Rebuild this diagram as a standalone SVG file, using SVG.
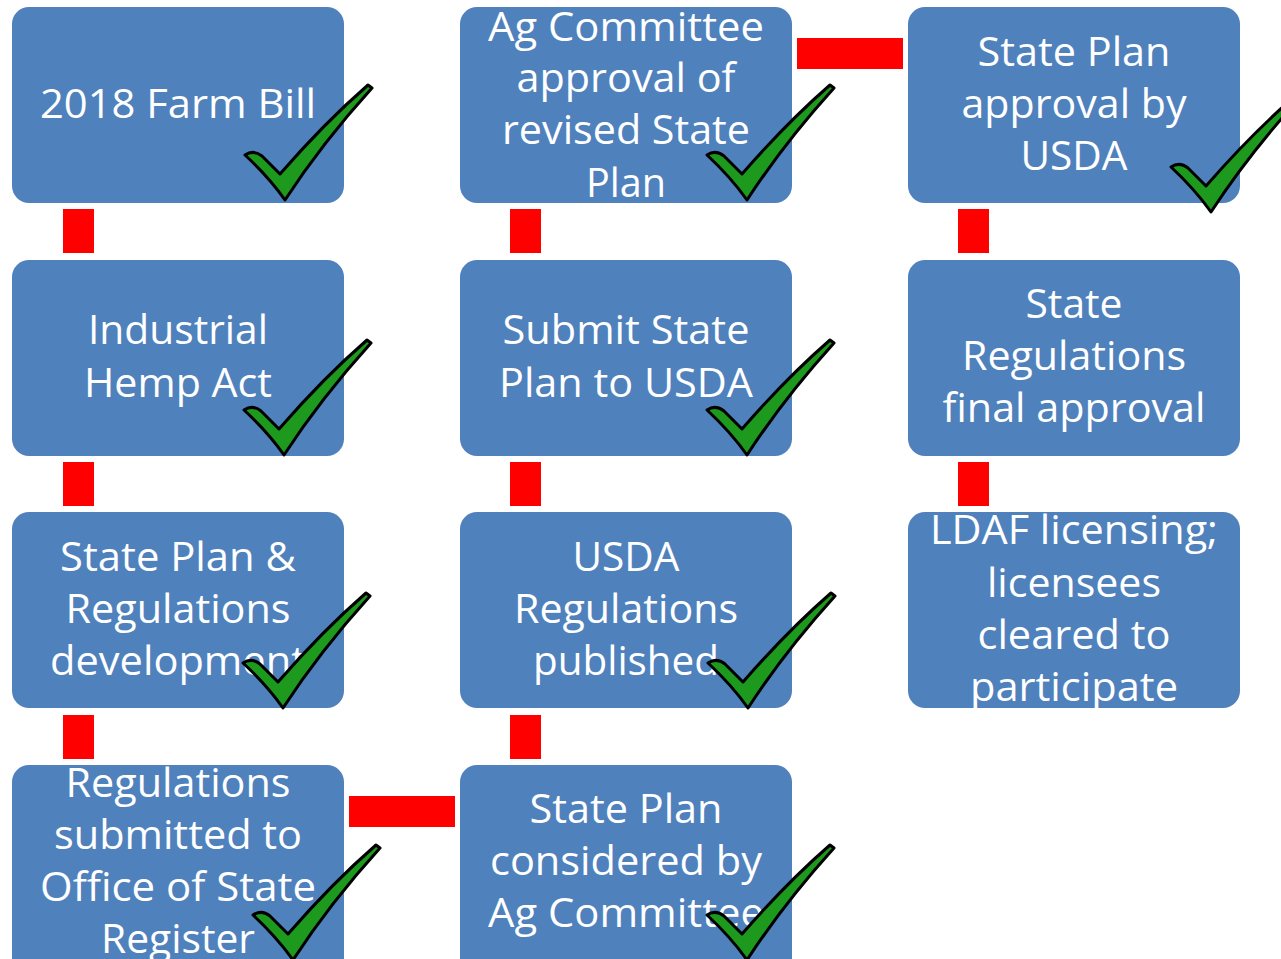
<svg xmlns="http://www.w3.org/2000/svg" width="1281" height="959" viewBox="0 0 1281 959">
<defs>
<style>
.box{fill:#4f81bd;}
.lnk{fill:#ff0000;}
text{font-family:"Open Sans","Liberation Sans",sans-serif;font-size:41px;fill:#ffffff;text-anchor:middle;}
.chk{fill:#1d9a1d;stroke:#000;stroke-width:3;stroke-linejoin:round;}
</style>
<path id="check" class="chk" d="M0,70 C6,66 12,67 17,71 L35,89 C62,58 92,27 123,0 L127,3 C98,35 68,72 40,115 C28,98 14,83 0,70 Z"/>
</defs>
<rect width="1281" height="959" fill="#ffffff"/>
<g id="connectors">
<rect class="lnk" x="63" y="209" width="31" height="44"/>
<rect class="lnk" x="63" y="462" width="31" height="44"/>
<rect class="lnk" x="63" y="715" width="31" height="44"/>
<rect class="lnk" x="510" y="209" width="31" height="44"/>
<rect class="lnk" x="510" y="462" width="31" height="44"/>
<rect class="lnk" x="510" y="715" width="31" height="44"/>
<rect class="lnk" x="958" y="209" width="31" height="44"/>
<rect class="lnk" x="958" y="462" width="31" height="44"/>
<rect class="lnk" x="797" y="38" width="106" height="31"/>
<rect class="lnk" x="349" y="796" width="106" height="31"/>
</g>
<g id="n1">
<rect class="box" x="12" y="7" width="332" height="196" rx="17"/>
<text x="178" y="118" textLength="276" lengthAdjust="spacingAndGlyphs">2018 Farm Bill</text>
<use href="#check" x="245" y="85"/>
</g>
<g id="n2">
<rect class="box" x="12" y="260" width="332" height="196" rx="17"/>
<text x="178" y="344" textLength="180" lengthAdjust="spacingAndGlyphs">Industrial</text>
<text x="178" y="397" textLength="188" lengthAdjust="spacingAndGlyphs">Hemp Act</text>
<use href="#check" x="244" y="340"/>
</g>
<g id="n3">
<rect class="box" x="12" y="512" width="332" height="196" rx="17"/>
<text x="178" y="571" textLength="236" lengthAdjust="spacingAndGlyphs">State Plan &amp;</text>
<text x="178" y="623" textLength="225" lengthAdjust="spacingAndGlyphs">Regulations</text>
<text x="178" y="675" textLength="256" lengthAdjust="spacingAndGlyphs">development</text>
<use href="#check" x="243" y="593"/>
</g>
<g id="n4">
<rect class="box" x="12" y="765" width="332" height="215" rx="17"/>
<text x="178" y="797" textLength="225" lengthAdjust="spacingAndGlyphs">Regulations</text>
<text x="178" y="849" textLength="248" lengthAdjust="spacingAndGlyphs">submitted to</text>
<text x="178" y="901" textLength="276" lengthAdjust="spacingAndGlyphs">Office of State</text>
<text x="178" y="953" textLength="154" lengthAdjust="spacingAndGlyphs">Register</text>
<use href="#check" x="253" y="845"/>
</g>
<g id="n5">
<rect class="box" x="460" y="7" width="332" height="196" rx="17"/>
<text x="626" y="41" textLength="276" lengthAdjust="spacingAndGlyphs">Ag Committee</text>
<text x="626" y="92" textLength="219" lengthAdjust="spacingAndGlyphs">approval of</text>
<text x="626" y="144" textLength="248" lengthAdjust="spacingAndGlyphs">revised State</text>
<text x="626" y="197" textLength="80" lengthAdjust="spacingAndGlyphs">Plan</text>
<use href="#check" x="707" y="85"/>
</g>
<g id="n6">
<rect class="box" x="460" y="260" width="332" height="196" rx="17"/>
<text x="626" y="344" textLength="247" lengthAdjust="spacingAndGlyphs">Submit State</text>
<text x="626" y="397" textLength="254" lengthAdjust="spacingAndGlyphs">Plan to USDA</text>
<use href="#check" x="707" y="340"/>
</g>
<g id="n7">
<rect class="box" x="460" y="512" width="332" height="196" rx="17"/>
<text x="626" y="571" textLength="107" lengthAdjust="spacingAndGlyphs">USDA</text>
<text x="626" y="623" textLength="224" lengthAdjust="spacingAndGlyphs">Regulations</text>
<text x="626" y="675" textLength="186" lengthAdjust="spacingAndGlyphs">published</text>
<use href="#check" x="708" y="593"/>
</g>
<g id="n8">
<rect class="box" x="460" y="765" width="332" height="215" rx="17"/>
<text x="626" y="823" textLength="193" lengthAdjust="spacingAndGlyphs">State Plan</text>
<text x="626" y="875" textLength="272" lengthAdjust="spacingAndGlyphs">considered by</text>
<text x="626" y="927" textLength="276" lengthAdjust="spacingAndGlyphs">Ag Committee</text>
<use href="#check" x="707" y="845"/>
</g>
<g id="n9">
<rect class="box" x="908" y="7" width="332" height="196" rx="17"/>
<text x="1074" y="66" textLength="193" lengthAdjust="spacingAndGlyphs">State Plan</text>
<text x="1074" y="118" textLength="225" lengthAdjust="spacingAndGlyphs">approval by</text>
<text x="1074" y="170" textLength="107" lengthAdjust="spacingAndGlyphs">USDA</text>
<use href="#check" x="1171" y="97"/>
</g>
<g id="n10">
<rect class="box" x="908" y="260" width="332" height="196" rx="17"/>
<text x="1074" y="318" textLength="97" lengthAdjust="spacingAndGlyphs">State</text>
<text x="1074" y="370" textLength="224" lengthAdjust="spacingAndGlyphs">Regulations</text>
<text x="1074" y="422" textLength="263" lengthAdjust="spacingAndGlyphs">final approval</text>
</g>
<g id="n11">
<rect class="box" x="908" y="512" width="332" height="196" rx="17"/>
<text x="1074" y="544" textLength="288" lengthAdjust="spacingAndGlyphs">LDAF licensing;</text>
<text x="1074" y="597" textLength="174" lengthAdjust="spacingAndGlyphs">licensees</text>
<text x="1074" y="649" textLength="193" lengthAdjust="spacingAndGlyphs">cleared to</text>
<text x="1074" y="701" textLength="208" lengthAdjust="spacingAndGlyphs">participate</text>
</g>
</svg>
